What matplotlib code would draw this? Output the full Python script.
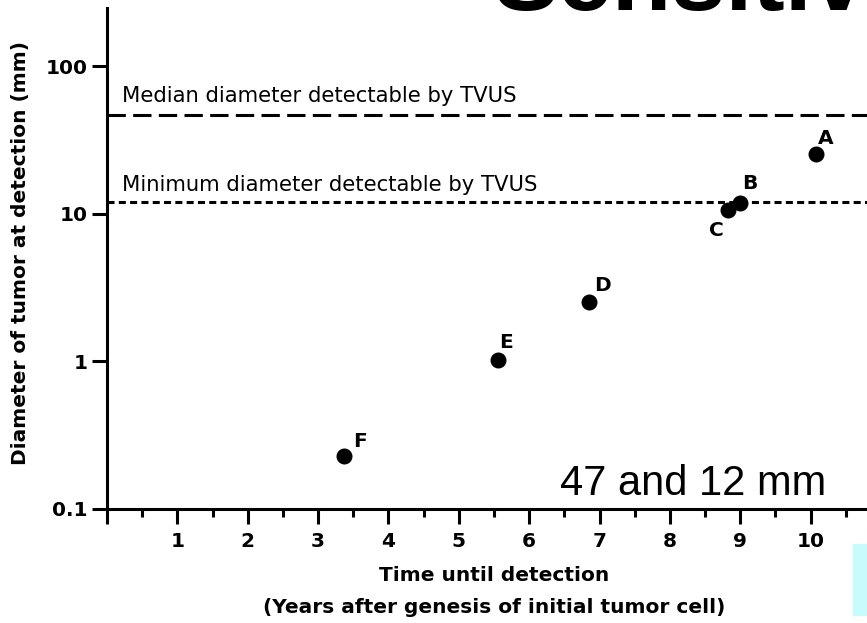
import matplotlib
matplotlib.use("Agg")
import matplotlib.pyplot as plt
from matplotlib.patches import Rectangle
from matplotlib.ticker import FixedLocator, NullFormatter, FixedFormatter

# tumours: label, years until detection, diameter at detection (mm)
labels = ['A', 'B', 'C', 'D', 'E', 'F']
years = [10.07, 8.99, 8.83, 6.85, 5.55, 3.37]
diam = [25.3, 11.8, 10.6, 2.55, 1.03, 0.227]
# offsets of the letter from its dot (points)
label_offsets = [(1.4, 7.2), (2.2, 10.1), (-13.7, -18.7), (3.6, 7.9), (1.4, 8.6), (6.5, 6.5)]

median_mm = 47
minimum_mm = 12

x_ticks = list(range(0, 12))
x_ticklabels = [''] + [str(i) for i in range(1, 11)] + ['']
y_ticks = [0.1, 1, 10, 100]
y_ticklabels = ['0.1', '1', '10', '100']

fig = plt.figure(figsize=(8.67, 6.23), dpi=100)
ax = fig.add_axes([107/867, 1 - 509/623, 774/867, 501/623])

ax.set_yscale('log')
ax.set_xlim(0, 11)
ax.set_ylim(0.1, 249)

# detection limits
ax.axhline(median_mm, color='black', lw=2.2, ls=(0, (6, 2.4)))
ax.axhline(minimum_mm, color='black', lw=2.2, ls=(0, (2.3, 1.4)))
ax.text(0.21, 57, 'Median diameter detectable by TVUS', fontsize=15.2, va='baseline')
ax.text(0.21, 14.2, 'Minimum diameter detectable by TVUS', fontsize=15.2, va='baseline')

ax.plot(years, diam, 'o', color='black', ms=10.5, ls='none', clip_on=False)
for lab, x, y, off in zip(labels, years, diam, label_offsets):
    ax.annotate(lab, (x, y), xytext=off, textcoords='offset points',
                fontsize=14.5, fontweight='bold', va='baseline', ha='left')

for s in ['top', 'right']:
    ax.spines[s].set_visible(False)
for s in ['left', 'bottom']:
    ax.spines[s].set_linewidth(2.2)

ax.xaxis.set_major_locator(FixedLocator(x_ticks))
ax.xaxis.set_major_formatter(FixedFormatter(x_ticklabels))
ax.xaxis.set_minor_locator(FixedLocator([i + 0.5 for i in range(11)]))
ax.yaxis.set_major_locator(FixedLocator(y_ticks))
ax.yaxis.set_major_formatter(FixedFormatter(y_ticklabels))
ax.yaxis.set_minor_locator(FixedLocator([]))
ax.yaxis.set_minor_formatter(NullFormatter())

ax.tick_params(axis='both', which='major', length=10.8, width=2.2, labelsize=14.5)
ax.tick_params(axis='x', which='major', pad=5.8)
ax.tick_params(axis='y', which='major', pad=3)
ax.tick_params(axis='x', which='minor', length=6, width=2.2)
for t in ax.get_xticklabels() + ax.get_yticklabels():
    t.set_fontweight('bold')

ax.set_ylabel('Diameter of tumor at detection (mm)', fontsize=14.5, fontweight='bold')
ax.yaxis.set_label_coords(-0.0995, 0.51)
ax.set_xlabel('Time until detection\n(Years after genesis of initial tumor cell)',
              fontsize=14.5, fontweight='bold', linespacing=1.85)
ax.xaxis.set_label_coords(0.5, -0.114)

# slide overlay
fig.text(493/867, 1 - 10/623, 'Sensitivity', fontsize=70, fontweight='bold',
         family='Liberation Sans', va='baseline')
fig.text(560/867, 1 - 495/623, '47 and 12 mm', fontsize=30,
         family='Liberation Sans', va='baseline')
fig.patches.append(Rectangle((853/867, 1 - 615/623), 20/867, 71/623,
                             transform=fig.transFigure, color='#c8fcfc', zorder=0))

fig.savefig('out.png', dpi=100)
